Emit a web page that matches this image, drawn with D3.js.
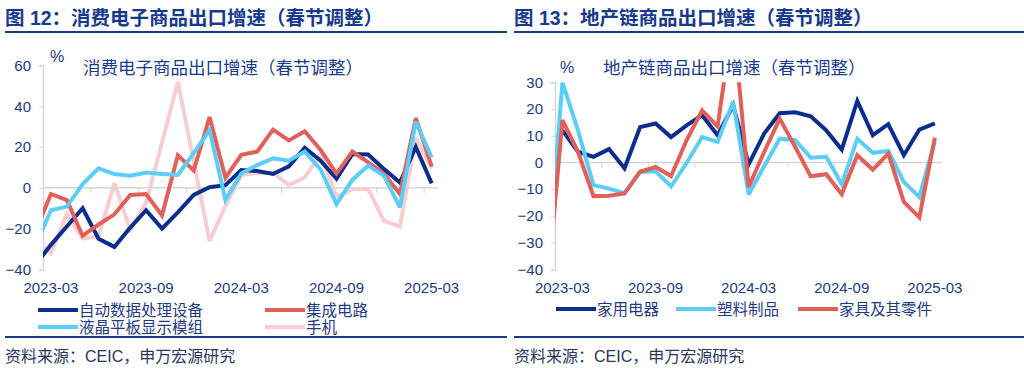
<!DOCTYPE html>
<html><head><meta charset="utf-8">
<script src="https://cdn.jsdelivr.net/npm/d3@7"></script>
<style>
html,body{margin:0;padding:0;background:#fff;}
svg text{font-family:'Liberation Sans','Noto Sans CJK SC',sans-serif;}
</style></head>
<body><svg id="c" width="1024" height="368"></svg>
<script>
// ---------- DATA ----------
const months = ["2023-02","2023-03","2023-04","2023-05","2023-06","2023-07","2023-08","2023-09","2023-10","2023-11","2023-12",
  "2024-01","2024-02","2024-03","2024-04","2024-05","2024-06","2024-07","2024-08","2024-09","2024-10","2024-11","2024-12",
  "2025-01","2025-02","2025-03"];
const tickLabels = ["2023-03","2023-09","2024-03","2024-09","2025-03"];

// Left chart: 消费电子
const leftNames = ["自动数据处理设备","集成电路","液晶平板显示模组","手机"];
const adp   = [-38,-28,-19,-10,-25,-29,-19.5,-11,-20,-12,-3.5, 0.3,1.3,8.8,8.3,6.8,10.6,19.7,13.3,4.5,16.6,16.4,9.2, 2.6,20.1,2.2];
const ic    = [-22,-3,-6,-23.5,-18,-13,-3.5,-3,-13.5,16,8.5, 34.8,5,16.2,17.8,28.6,23.3,27.8,18.6,7,17.8,12.5,6.8, -3,34.2,10.5];
const lcd   = [-29,-11,-9.2,1.9,9.6,6.8,6,7.5,6.8,6.3,17, 28.4,-5.9,7,11.2,14.5,13.3,17.8,9,-8,3.9,11,5.9, -9.6,32.5,14.9];
const phone = [-27,-32,-12.9,-24.8,-24,2.3,-20.7,-7.2,22,52,13, -26,-9,6.3,7.2,7.5,1.4,5.1,16.5,-4.3,-0.6,-0.6,-16.2, -19,24.7,9.6];
const leftTicks = [60,40,20,0,-20,-40];

// Right chart: 地产链
const rightNames = ["家用电器","塑料制品","家具及其零件"];
const appliances = [null,12,4,2.1,5,-2.2,13.2,14.6,9.5,13.9,17.7, 10.2,21.4,-0.7,10.8,18.4,18.8,17.3,12,4.8,23,10.2,14.3, 2.7,12.3,14.6];
const plastics   = [-43,30,12,-8.5,-9.8,-11.5,-3.6,-3.3,-9,-0.2,9.5, 7.7,22.7,-12,-1.4,8.9,8.3,1.8,2.1,-8.2,8.9,3.6,4.3, -7.3,-12.9,8];
const furniture  = [-49,15.8,4,-12.6,-12.5,-11.6,-3.5,-1.7,-5.1,8.3,19.5, 13.5,54,-9.2,3.9,16.4,5.8,-5.2,-4.4,-11.9,2.7,-2.7,3.3, -14.8,-20.6,9.3];
const rightTicks = [30,20,10,0,-10,-20,-30,-40];

// ---------- STYLE ----------
const C = {navy:"#0b2e8c", red:"#e0605a", cyan:"#5ccdf5", pink:"#f8cdd1", text:"#1f3a80", title:"#173a8c", grid:"#d6d6d6", src:"#2a3560"};
const svg = d3.select("#c");

// Titles & rules
function header(x0, x1, text){
  svg.append("text").attr("x", x0).attr("y", 25).attr("font-size", 19.5).attr("font-weight", "bold")
    .attr("fill", C.title).text(text);
  svg.append("line").attr("x1", x0).attr("x2", x1).attr("y1", 32).attr("y2", 32)
    .attr("stroke", C.title).attr("stroke-width", 2);
  svg.append("line").attr("x1", x0).attr("x2", x1).attr("y1", 337).attr("y2", 337)
    .attr("stroke", C.title).attr("stroke-width", 2);
  svg.append("text").attr("x", x0).attr("y", 362).attr("font-size", 16).attr("fill", C.src)
    .text("资料来源：CEIC，申万宏源研究");
}
header(5, 507, "图 12：消费电子商品出口增速（春节调整）");
header(514, 1024, "图 13：地产链商品出口增速（春节调整）");

function chart(cfg){
  const g = svg.append("g");
  const x = d3.scaleLinear().domain(cfg.xDomain).range(cfg.xRange);
  const y = d3.scaleLinear().domain(cfg.yDomain).range(cfg.yRange);
  const id = "clip" + cfg.id;
  svg.append("defs").append("clipPath").attr("id", id).append("rect")
    .attr("x", cfg.xRange[0]).attr("y", cfg.yRange[1])
    .attr("width", cfg.xRange[1]-cfg.xRange[0]).attr("height", cfg.yRange[0]-cfg.yRange[1]);

  // y axis
  const ya = g.append("g").attr("transform", `translate(${cfg.xRange[0]},0)`)
    .call(d3.axisLeft(y).tickValues(cfg.yTicks).tickSize(4).tickPadding(8).tickFormat(d3.format("d")));
  ya.select(".domain").attr("stroke", C.grid).attr("stroke-width", 1.5);
  ya.selectAll(".tick line").attr("stroke", C.grid);
  ya.selectAll(".tick text").attr("fill", C.text).attr("font-size", 15)
    .attr("font-family", "'Liberation Sans',sans-serif");

  // zero line with small ticks
  const xa = g.append("g").attr("transform", `translate(0,${y(0)})`)
    .call(d3.axisBottom(x).tickValues(d3.range(3.5, 25, 3)).tickSize(5).tickFormat(""));
  xa.select(".domain").attr("stroke", C.grid).attr("stroke-width", 1.5).attr("d", `M${cfg.xRange[0]},0H${cfg.xRange[1]}`);
  xa.selectAll(".tick line").attr("stroke", C.grid);

  // bottom date labels
  g.selectAll(".xl").data(tickLabels).join("text")
    .attr("x", d => x(months.indexOf(d))).attr("y", 293)
    .attr("text-anchor", "middle").attr("font-size", 15).attr("fill", C.text).text(d => d);

  // lines
  const line = d3.line().defined(d => d != null).x((d,i) => x(i)).y(d => y(d));
  const lg = g.append("g").attr("clip-path", `url(#${id})`);
  cfg.series.forEach(s => {
    lg.append("path").datum(s.values).attr("d", line).attr("fill", "none")
      .attr("stroke", s.color).attr("stroke-width", 4).attr("stroke-linejoin", "miter").attr("stroke-miterlimit", 3);
  });

  // % and inner title
  g.append("text").attr("x", cfg.pct[0]).attr("y", cfg.pct[1]).attr("font-size", 16).attr("fill", C.text).text("%");
  g.append("text").attr("x", cfg.title[0]).attr("y", cfg.title[1]).attr("font-size", 17.5).attr("fill", C.title).text(cfg.titleText);

  // legend
  cfg.legend.forEach(l => {
    g.append("line").attr("x1", l.x).attr("x2", l.x + 40).attr("y1", l.y).attr("y2", l.y)
      .attr("stroke", l.color).attr("stroke-width", 4);
    g.append("text").attr("x", l.x + 41).attr("y", l.y + 5.5).attr("font-size", 15.5).attr("fill", C.text).text(l.name);
  });
}

chart({
  id: "L", xDomain: [0.5, 25.4], xRange: [43, 438], yDomain: [-40, 60], yRange: [269.3, 65.7], yTicks: leftTicks,
  series: [
    {values: phone, color: C.pink},
    {values: adp, color: C.navy},
    {values: ic, color: C.red},
    {values: lcd, color: C.cyan}
  ],
  pct: [50, 62], title: [83, 74], titleText: "消费电子商品出口增速（春节调整）",
  legend: [
    {x: 38, y: 310, color: C.navy, name: leftNames[0]},
    {x: 265, y: 310, color: C.red, name: leftNames[1]},
    {x: 38, y: 327, color: C.cyan, name: leftNames[2]},
    {x: 265, y: 327, color: C.pink, name: leftNames[3]}
  ]
});

chart({
  id: "R", xDomain: [0.52, 25.46], xRange: [555, 942], yDomain: [-40, 30], yRange: [269.3, 82.3], yTicks: rightTicks,
  series: [
    {values: appliances, color: C.navy},
    {values: plastics, color: C.cyan},
    {values: furniture, color: C.red}
  ],
  pct: [560, 73], title: [603, 74], titleText: "地产链商品出口增速（春节调整）",
  legend: [
    {x: 556, y: 309, color: C.navy, name: rightNames[0]},
    {x: 676, y: 309, color: C.cyan, name: rightNames[1]},
    {x: 798, y: 309, color: C.red, name: rightNames[2]}
  ]
});
</script></body></html>
